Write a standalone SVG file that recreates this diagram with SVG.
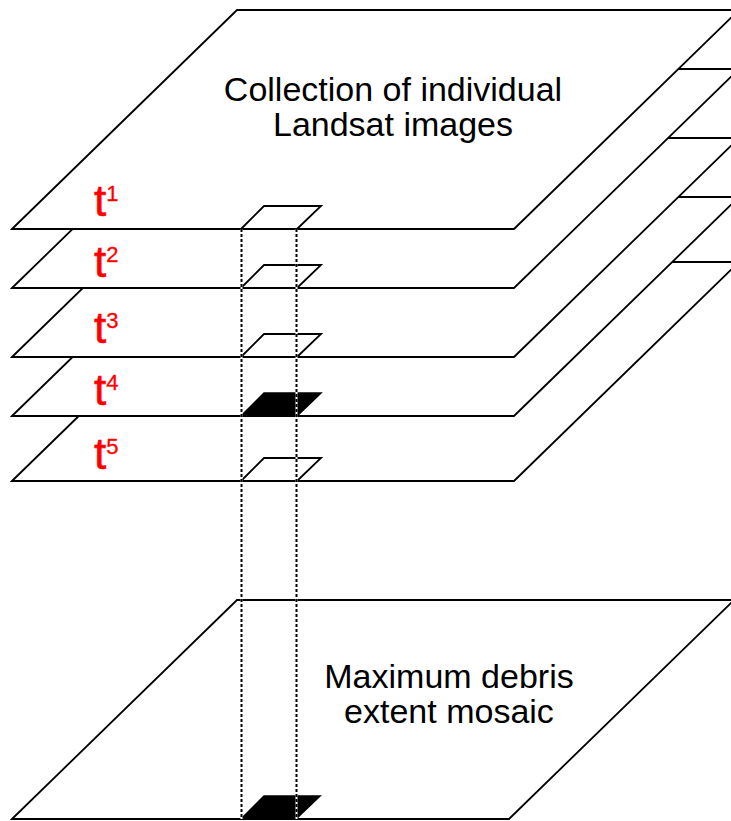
<svg xmlns="http://www.w3.org/2000/svg" width="731" height="821" viewBox="0 0 731 821">
<style>
.plane{fill:#fff;stroke:#000;stroke-width:1.8;stroke-linejoin:miter}
.cell{fill:#fff;stroke:#000;stroke-width:1.8}
.cellOn{fill:#000;stroke:#000;stroke-width:1.5}
.lbl{font-family:"Liberation Sans",Arial,sans-serif;font-size:34px;fill:#000;text-anchor:middle}
.t{font-family:"Liberation Sans",Arial,sans-serif;font-size:44px;fill:#ff0000;stroke:#ff0000;stroke-width:0.6}
.sup{font-size:22px;stroke-width:0.3}
.under{stroke:#fff;stroke-width:2}
.dot{stroke:#000;stroke-width:2;stroke-dasharray:3 2;fill:none}
</style>
<rect width="731" height="821" fill="#fff"/>
<g id="mosaic">
<polygon class="plane" points="12,819 237,600 734,600 509,819"/>
<polygon class="cellOn" points="241,819 264,796 320,796 296,819"/>
<text class="lbl" x="449" y="688">Maximum debris</text>
<text class="lbl" x="449" y="723">extent mosaic</text>
</g>
<g id="t5">
<polygon class="plane" points="12,481 237,262 739,262 514,481"/>
<polygon class="cell" points="241,481 264,458 321,458 297,481"/>
<text class="t" x="94" y="469">t<tspan class="sup" dy="-15">5</tspan></text>
</g>
<g id="t4">
<polygon class="plane" points="12,416 237,197 739,197 514,416"/>
<polygon class="cellOn" points="241,416 264,393 321,393 297,416"/>
<text class="t" x="94" y="405">t<tspan class="sup" dy="-15">4</tspan></text>
</g>
<g id="t3">
<polygon class="plane" points="12,357 237,138 739,138 514,357"/>
<polygon class="cell" points="241,357 264,334 321,334 297,357"/>
<text class="t" x="94" y="343">t<tspan class="sup" dy="-15">3</tspan></text>
</g>
<g id="t2">
<polygon class="plane" points="12,288 237,69 739,69 514,288"/>
<polygon class="cell" points="241,288 264,265 321,265 297,288"/>
<text class="t" x="94" y="277">t<tspan class="sup" dy="-15">2</tspan></text>
</g>
<g id="t1">
<polygon class="plane" points="12,229 237,10 739,10 514,229"/>
<polygon class="cell" points="241,229 264,206 321,206 297,229"/>
<text class="t" x="94" y="216">t<tspan class="sup" dy="-15">1</tspan></text>
<text class="lbl" x="393" y="101">Collection of individual</text>
<text class="lbl" x="393" y="136">Landsat images</text>
</g>
<g id="connectors">
<line class="under" x1="241.5" y1="229" x2="241.5" y2="819"/>
<line class="under" x1="296.5" y1="229" x2="296.5" y2="819"/>
<line class="dot" x1="241.5" y1="229" x2="241.5" y2="819"/>
<line class="dot" x1="296.5" y1="229" x2="296.5" y2="819"/>
</g>
</svg>
